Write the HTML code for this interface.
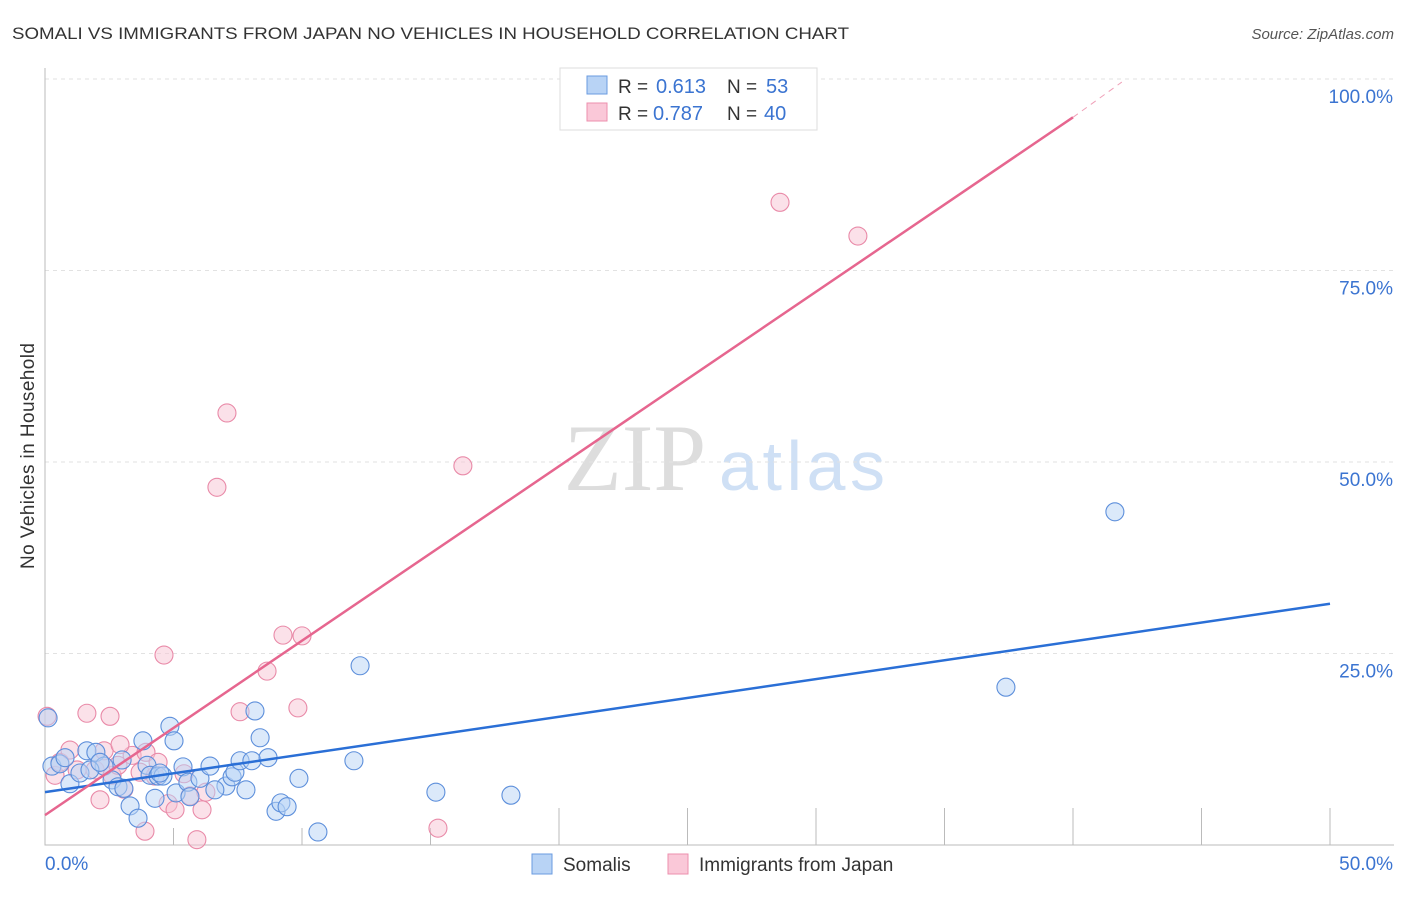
<!DOCTYPE html>
<html><head><meta charset="utf-8"><style>
body{margin:0;background:#fff;font-family:"Liberation Sans",sans-serif}
</style></head><body>
<svg width="1406" height="892" xmlns="http://www.w3.org/2000/svg" font-family="Liberation Sans, sans-serif">
<text x="12" y="39" font-size="17" fill="#333" textLength="837" lengthAdjust="spacingAndGlyphs">SOMALI VS IMMIGRANTS FROM JAPAN NO VEHICLES IN HOUSEHOLD CORRELATION CHART</text>
<text x="1394" y="39" font-size="15" fill="#555" font-style="italic" text-anchor="end">Source: ZipAtlas.com</text>
<g>
<text x="635" y="490" font-size="95" fill="#ddd" font-family="Liberation Serif, serif" text-anchor="middle">ZIP</text>
<text x="802" y="490" font-size="70" fill="#cfe0f5" text-anchor="middle" textLength="166">atlas</text>
</g>
<g id="grid"></g>
<g id="marks"></g>
<text x="0" y="0" font-size="19" fill="#333" transform="translate(34,456) rotate(-90)" text-anchor="middle" textLength="226">No Vehicles in Household</text>
<g>
<rect x="560" y="68" width="257" height="62" fill="#fff" stroke="#ddd"/>
<rect x="587" y="76" width="20" height="18" fill="#b8d3f5" stroke="#6a9be0"/>
<rect x="587" y="103" width="20" height="18" fill="#fac8d8" stroke="#ec8fae"/>
<text x="618" y="93" font-size="19" fill="#333">R =</text>
<text x="656" y="93" font-size="20" fill="#3b74d1">0.613</text>
<text x="727" y="93" font-size="19" fill="#333">N =</text>
<text x="766" y="93" font-size="20" fill="#3b74d1">53</text>
<text x="618" y="120" font-size="19" fill="#333">R =</text>
<text x="653" y="120" font-size="20" fill="#3b74d1">0.787</text>
<text x="727" y="120" font-size="19" fill="#333">N =</text>
<text x="764" y="120" font-size="20" fill="#3b74d1">40</text>
</g>
<g>
<rect x="532" y="854" width="20" height="20" fill="#b8d3f5" stroke="#6a9be0"/>
<text x="563" y="871" font-size="19" fill="#333">Somalis</text>
<rect x="668" y="854" width="20" height="20" fill="#fac8d8" stroke="#ec8fae"/>
<text x="699" y="871" font-size="19" fill="#333">Immigrants from Japan</text>
</g>
</svg>
<script>
const xTicks=[0,50];
const xMinor=[5,10,15,20,25,30,35,40,45,50];
const yTicks=[25,50,75,100];
const blueX=[0.12,0.27,0.58,0.97,1.36,1.63,1.98,2.30,2.61,2.84,3.07,3.31,3.62,3.81,3.97,4.09,4.28,4.40,4.59,4.86,5.02,5.10,5.37,5.56,5.64,6.03,6.42,7.04,7.28,7.39,7.59,7.82,8.05,8.17,8.37,8.68,8.99,9.18,9.42,9.88,10.62,12.02,12.26,15.21,18.13,37.39,41.63,1.75,2.14,3.00,4.47,6.61,0.78];
const blueY=[16.6,10.3,10.6,8.0,9.4,12.3,12.1,10.3,8.5,7.6,7.4,5.1,3.5,13.6,10.4,9.1,6.1,9.0,9.0,15.5,13.6,6.8,10.2,8.2,6.3,8.7,10.3,7.7,8.9,9.5,11.0,7.2,11.0,17.5,14.0,11.4,4.4,5.5,5.0,8.7,1.7,11.0,23.4,6.9,6.5,20.6,43.5,9.8,10.8,11.1,9.4,7.2,11.4];
const pinkX=[0.08,0.39,0.58,0.97,1.25,1.63,1.95,2.14,2.30,2.53,2.61,2.84,3.07,3.39,3.70,3.89,3.93,4.28,4.40,4.63,4.79,5.06,5.41,5.64,5.91,6.11,6.26,6.69,7.08,7.59,8.64,9.26,9.84,10.00,15.29,16.26,28.60,31.63,2.92,2.14];
const pinkY=[16.8,9.1,10.8,12.4,9.8,17.2,9.8,10.8,12.3,16.8,9.1,10.4,7.3,11.7,9.5,1.8,12.1,9.0,10.8,24.8,5.4,4.6,9.3,6.4,0.7,4.6,6.9,46.7,56.4,17.4,22.7,27.4,17.9,27.3,2.2,49.5,83.9,79.5,13.1,5.9];
const blueLine=[[0,6.9],[50,31.5]];
const pinkLine=[[0,3.9],[40.0,95.0]];
const pinkDash=[[40.0,95.0],[41.9,99.6]];
const NS='http://www.w3.org/2000/svg';
const X=v=>45+v*25.7, Y=v=>845-v*7.66;
function mk(t,a,p){const e=document.createElementNS(NS,t);for(const k in a)e.setAttribute(k,a[k]);p.appendChild(e);return e;}
const grid=document.getElementById('grid'), marks=document.getElementById('marks');
yTicks.forEach(v=>{
 const l=mk('line',{x1:45,x2:1394,y1:Y(v),y2:Y(v),stroke:'#e2e2e2','stroke-dasharray':'4,4'},grid);
 
 
 const t=mk('text',{x:1393,y:Y(v)+24,'font-size':19,fill:'#3b74d1','text-anchor':'end'},grid);
 t.textContent=v.toFixed(1)+'%';
 
 
});
const ax=mk('path',{d:'M45 68V845H1394',fill:'none',stroke:'#bbb'},grid);


xMinor.forEach(v=>{
 const l=mk('line',{x1:X(v),x2:X(v),y1:v<20?828:808,y2:845,stroke:'#bbb'},grid);
 
 
});
xTicks.forEach((v,i)=>{
 const t=mk('text',{x:i?1393:45,y:870,'font-size':19,fill:'#3b74d1','text-anchor':i?'end':'start'},grid);
 t.textContent=v.toFixed(1)+'%';
 
 
});
function dots(xs,ys,fill,stroke,name){xs.forEach((x,i)=>{
 const c=mk('circle',{cx:X(x),cy:Y(ys[i]),r:9,fill:fill,'fill-opacity':0.5,stroke:stroke,'stroke-width':1.1},marks);
 
 
});}
dots(pinkX,pinkY,'#f8c3d3','#e98aa8','japan-point');
dots(blueX,blueY,'#b8d3f5','#5d8fdb','somali-point');
function line(p,col,name,dash){
 const l=mk('line',{x1:X(p[0][0]),y1:Y(p[0][1]),x2:X(p[1][0]),y2:Y(p[1][1]),stroke:col,'stroke-width':dash?1:2.5},marks);
 if(dash)l.setAttribute('stroke-dasharray','6,5');
 
 
}
line(blueLine,'#2a6fd6','somali-trendline');
line(pinkLine,'#e6668f','japan-trendline');
line(pinkDash,'#f0a0b8','japan-trendline-extension',true);
</script>
</body></html>
